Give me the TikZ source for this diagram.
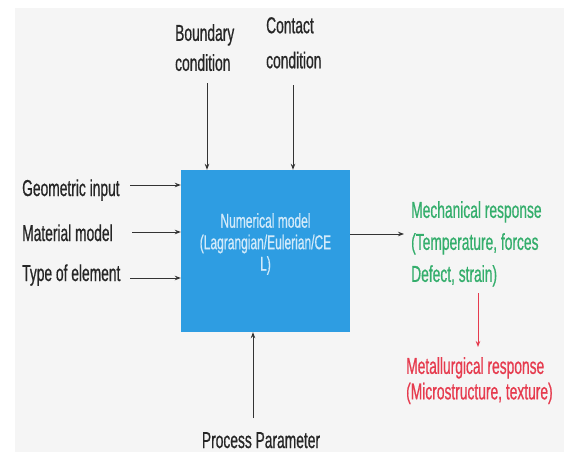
\documentclass[tikz,border=0pt]{standalone}
\usepackage{fontspec}
\setmainfont[FakeStretch=0.6,FakeBold=0.6]{Liberation Sans}
\usetikzlibrary{arrows.meta}
\definecolor{bgc}{HTML}{F5F5F5}
\definecolor{boxblue}{HTML}{2E9DE2}
\definecolor{boxtext}{HTML}{D2EAFA}
\definecolor{mechgreen}{HTML}{34AE6C}
\definecolor{metred}{HTML}{E63B4E}
\definecolor{linec}{HTML}{333333}
\tikzset{
  lbl/.style={inner sep=0pt, font=\fontsize{23}{32}\selectfont, text=black!85},
  arr/.style={draw=linec, line width=0.9pt, -{Stealth[length=6pt,width=4.5pt]}},
  model/.style={fill=boxblue, minimum width=169pt, minimum height=162pt, inner sep=0pt},
  modeltext/.style={inner sep=0pt, align=center, text=boxtext, font=\fontsize{20}{21.5}\selectfont},
}
\begin{document}
\begin{tikzpicture}[x=1pt,y=-1pt]
\useasboundingbox (0,0) rectangle (564,452);
\fill[white] (0,0) rectangle (564,452);
\fill[bgc] (15,8) rectangle (564,452);
\node[model] (box) at (265.5,251) {};
\node[modeltext, anchor=north] (boxtxt) at (265.5,213) {Numerical model\\(Lagrangian/Eulerian/CE\\L)};
\node[lbl, anchor=base west] (geo) at (22,196) {Geometric input};
\node[lbl, anchor=base west] (mat) at (22,241) {Material model};
\node[lbl, anchor=base west] (typ) at (22,281) {Type of element};
\node[lbl, anchor=north west, align=left, font=\fontsize{23}{30}\selectfont] (bnd) at (175,24) {Boundary\\condition};
\node[lbl, anchor=north west, align=left, font=\fontsize{23}{35}\selectfont] (cnt) at (266,17) {Contact\\condition};
\node[lbl, anchor=base] (proc) at (261,448) {Process Parameter};
\node[lbl, anchor=north west, align=left, text=mechgreen] (mech) at (411,201) {Mechanical response\\(Temperature, forces\\Defect, strain)};
\node[lbl, anchor=north west, align=left, text=metred, font=\fontsize{23}{25.5}\selectfont] (met) at (406,357) {Metallurgical response\\(Microstructure, texture)};
\coordinate (geotail) at (130,185);
\coordinate (mattail) at (132,232);
\coordinate (typtail) at (130,278);
\coordinate (bndtail) at (207,83);
\coordinate (cnttail) at (293,85);
\coordinate (proctail) at (253,418);
\coordinate (mechtip) at (404,234);
\coordinate (redtail) at (478,293);
\coordinate (redtip) at (478,347);
\draw[arr] (geotail) -- (geotail -| box.west);
\draw[arr] (mattail) -- (mattail -| box.west);
\draw[arr] (typtail) -- (typtail -| box.west);
\draw[arr] (bndtail) -- (bndtail |- box.north);
\draw[arr] (cnttail) -- (cnttail |- box.north);
\draw[arr] (proctail) -- (proctail |- box.south);
\draw[arr] (mechtip -| box.east) -- (mechtip);
\draw[arr, draw=metred] (redtail) -- (redtip);
\end{tikzpicture}
\end{document}
